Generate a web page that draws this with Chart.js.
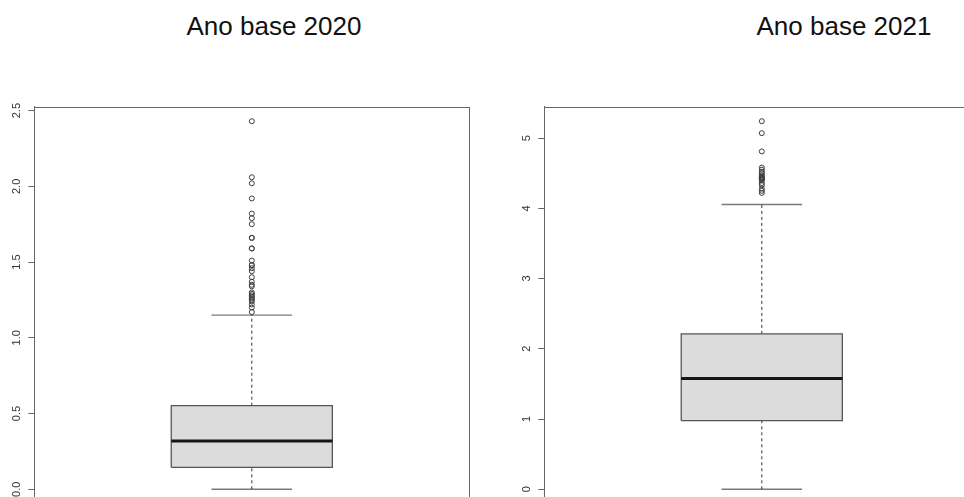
<!DOCTYPE html>
<html lang="pt">
<head>
<meta charset="utf-8">
<title>Ano base 2020 / 2021</title>
<script src="https://cdn.jsdelivr.net/npm/chart.js@4/dist/chart.umd.min.js"></script>
<style>
  html, body { margin: 0; padding: 0; background: #ffffff; }
  body { width: 964px; height: 497px; overflow: hidden; position: relative; }
  canvas { position: absolute; top: 0; }
  #panel2020 { left: 0px; }
  #panel2021 { left: 510px; }
  .title {
    position: absolute; top: 11px; white-space: nowrap;
    font-family: "Liberation Sans", Arial, Helvetica, sans-serif;
    font-size: 26px; line-height: 30px; color: #111;
    transform: translateX(-50%);
  }
  #title2020 { left: 274px; }
  #title2021 { left: 844px; }
</style>
</head>
<body>
<div class="title" id="title2020"></div>
<div class="title" id="title2021"></div>
<canvas id="panel2020" width="482" height="520"></canvas>
<canvas id="panel2021" width="482" height="520"></canvas>
<script>
// Panel titles
const yearTitles = ['Ano base 2020', 'Ano base 2021'];

// Five-number summaries: lower whisker, Q1, median, Q3, upper whisker
const summary2020 = [0.0, 0.145, 0.319, 0.552, 1.150];
const summary2021 = [0.0, 0.977, 1.576, 2.212, 4.054];

// Points beyond the whiskers
const outliers2020 = [2.43, 2.06, 2.02, 1.92, 1.82, 1.79, 1.75, 1.66, 1.66, 1.59, 1.59,
  1.51, 1.48, 1.48, 1.46, 1.44, 1.40, 1.37, 1.35, 1.34, 1.30, 1.29, 1.28, 1.27,
  1.26, 1.25, 1.24, 1.22, 1.20, 1.17];
const outliers2021 = [5.24, 5.07, 4.81, 4.58, 4.55, 4.52, 4.50, 4.47, 4.45, 4.44,
  4.43, 4.42, 4.41, 4.40, 4.36, 4.33, 4.28, 4.25, 4.22];

// Y-axis ticks
const tickValues2020 = [0, 0.5, 1, 1.5, 2, 2.5];
const tickLabels2020 = ['0.0', '0.5', '1.0', '1.5', '2.0', '2.5'];
const tickValues2021 = [0, 1, 2, 3, 4, 5];
const tickLabels2021 = ['0', '1', '2', '3', '4', '5'];

document.getElementById('title2020').textContent = yearTitles[0];
document.getElementById('title2021').textContent = yearTitles[1];

// Box geometry in x-units (box centred at 1, as in a single-group boxplot)
const BOX_CENTER = 1, BOX_HALF = 0.2, CAP_HALF = 0.1;

// Frame around the plotting region
const framePlugin = {
  id: 'frame',
  afterDraw(chart) {
    const { ctx, chartArea: a } = chart;
    ctx.save();
    ctx.strokeStyle = '#666666';
    ctx.lineWidth = 1;
    ctx.strokeRect(Math.round(a.left) + 0.5, Math.round(a.top) + 0.5,
      Math.round(a.right - a.left), Math.round(a.bottom - a.top));
    ctx.restore();
  }
};

function segment(x0, y0, x1, y1, extra) {
  return Object.assign({
    type: 'line',
    data: [{ x: x0, y: y0 }, { x: x1, y: y1 }],
    pointRadius: 0,
    fill: false,
    tension: 0
  }, extra);
}

function buildBoxplot(canvasId, summary, outliers, tickValues, tickLabels, labelPadding) {
  const [lo, q1, med, q3, hi] = summary;
  const span = Math.max(...outliers, hi) - Math.min(lo, ...outliers);
  const yMin = Math.min(lo, ...outliers) - 0.04 * span;
  const yMax = Math.max(hi, ...outliers) + 0.04 * span;
  const xl = BOX_CENTER - BOX_HALF, xr = BOX_CENTER + BOX_HALF;

  return new Chart(document.getElementById(canvasId), {
    type: 'scatter',
    data: {
      datasets: [
        {
          label: 'outliers',
          data: outliers.map(v => ({ x: BOX_CENTER, y: v })),
          pointRadius: 2.5,
          pointBorderWidth: 1,
          pointBorderColor: '#3c3c3c',
          pointBackgroundColor: 'rgba(0,0,0,0)',
          order: 0
        },
        segment(xl, med, xr, med, { label: 'median', borderColor: '#161616', borderWidth: 3, order: 1 }),
        {
          type: 'line', label: 'box',
          data: [{ x: xl, y: q1 }, { x: xr, y: q1 }, { x: xr, y: q3 }, { x: xl, y: q3 }, { x: xl, y: q1 }],
          pointRadius: 0, fill: false, tension: 0,
          borderColor: '#555555', borderWidth: 1.3, order: 2
        },
        segment(BOX_CENTER, q3, BOX_CENTER, hi, { label: 'upper whisker', borderColor: '#333333', borderWidth: 1, borderDash: [3, 3], order: 3 }),
        segment(BOX_CENTER, lo, BOX_CENTER, q1, { label: 'lower whisker', borderColor: '#333333', borderWidth: 1, borderDash: [3, 3], order: 3 }),
        segment(BOX_CENTER - CAP_HALF, hi, BOX_CENTER + CAP_HALF, hi, { label: 'upper staple', borderColor: '#7a7a7a', borderWidth: 1.4, order: 3 }),
        segment(BOX_CENTER - CAP_HALF, lo, BOX_CENTER + CAP_HALF, lo, { label: 'lower staple', borderColor: '#7a7a7a', borderWidth: 1.4, order: 3 }),
        segment(xl, q3, xr, q3, { label: 'box fill', borderWidth: 0, fill: { value: q1 }, backgroundColor: '#dcdcdc', order: 4 })
      ]
    },
    options: {
      responsive: false,
      animation: false,
      devicePixelRatio: 1,
      layout: { padding: { top: 106.5, right: 12.7, bottom: 16, left: 0 } },
      plugins: { legend: { display: false }, tooltip: { enabled: false }, title: { display: false } },
      scales: {
        x: { type: 'linear', min: 0.46, max: 1.54, display: false },
        y: {
          type: 'linear', position: 'left', min: yMin, max: yMax,
          afterBuildTicks(scale) { scale.ticks = tickValues.map(v => ({ value: v })); },
          afterFit(scale) { scale.width = 34.3; },
          grid: { display: true, drawOnChartArea: false, drawTicks: true, tickLength: 6, color: '#666666', lineWidth: 1 },
          border: { display: true, color: '#666666', width: 1 },
          ticks: {
            minRotation: 90, maxRotation: 90,
            crossAlign: 'center',
            padding: labelPadding,
            color: '#333333',
            font: { family: '"Liberation Sans", Arial, Helvetica, sans-serif', size: 11 },
            callback: (value, index) => tickLabels[index]
          }
        }
      }
    },
    plugins: [framePlugin]
  });
}

buildBoxplot('panel2020', summary2020, outliers2020, tickValues2020, tickLabels2020, 4);
buildBoxplot('panel2021', summary2021, outliers2021, tickValues2021, tickLabels2021, 8);
</script>
</body>
</html>
